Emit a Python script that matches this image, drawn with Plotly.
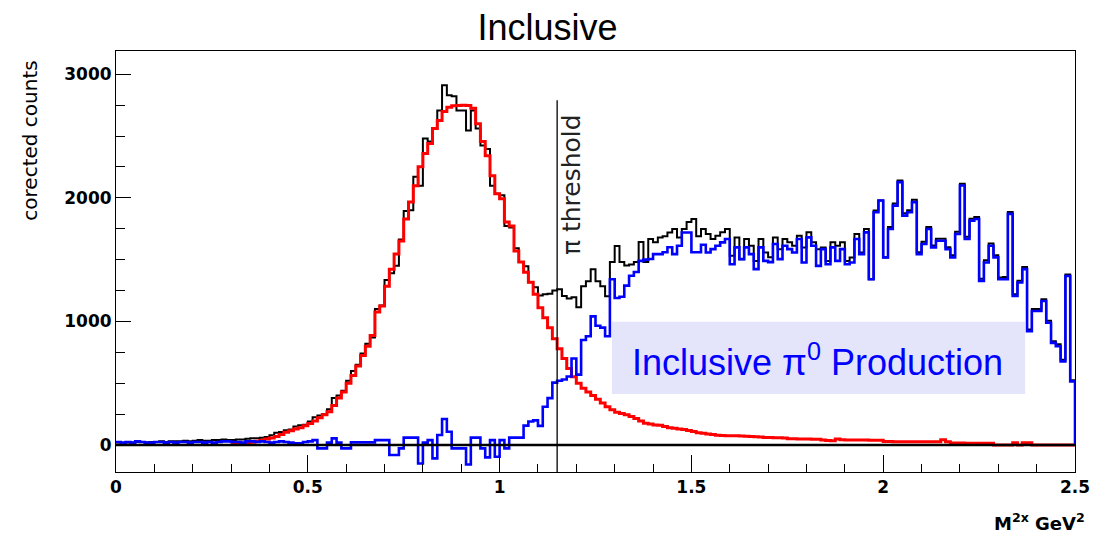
import numpy as np
import plotly.graph_objects as go

# ---------------- data ----------------
X_MIN, X_MAX, N_BINS = 0.0, 2.5, 200
RED_FIRST_BIN = 24

black_counts = [
    20, 15, 20, 20, 25, 25, 20, 25, 25, 30, 25, 30, 30, 30, 35, 30, 35, 40, 35, 35, 40, 40, 45, 40,
    40, 45, 45, 50, 55, 55, 60, 65, 80, 100, 105, 120, 125, 150, 160, 165, 190, 225, 240, 250,
    290, 380, 400, 440, 520, 600, 650, 740, 820, 870, 1100, 1130, 1335, 1390, 1450, 1663, 1894, 1900,
    2171, 2098, 2480, 2455, 2561, 2707, 2910, 2829, 2821, 2707, 2707, 2545, 2707, 2561, 2423, 2395,
    2098, 2033, 2020, 1772, 1760, 1593, 1480, 1447, 1317, 1276,
    1210, 1220, 1225, 1250, 1260, 1205, 1185, 1195, 1114, 1285, 1325, 1423, 1325, 1285, 1203, 1480,
    1610, 1480, 1453, 1460, 1480, 1642, 1480, 1667, 1640, 1680, 1690, 1720, 1748, 1680, 1748, 1805,
    1829, 1690,
    1748, 1707, 1667, 1694, 1721, 1748, 1531, 1680, 1504, 1667, 1612, 1490, 1667, 1558, 1520, 1680,
    1585, 1667, 1640, 1612, 1694, 1599, 1721, 1640, 1585, 1599, 1490, 1640, 1612, 1640, 1490, 1518,
    1707, 1558, 1748, 1341, 1897, 1978, 1518,
    1765, 1955, 2140, 1875, 1900, 1985, 1560, 1645, 1765, 1615, 1670, 1670, 1600, 1535, 1725, 2115,
    1685, 1830, 1845, 1345, 1495, 1630, 1535, 1355, 1360, 1885, 1220, 1330, 1440, 935, 1100, 1100,
    1180, 1005, 840, 815, 690, 1380, 525,
]

red_counts = [
    8, 10, 14, 18, 22, 30, 38, 48, 58, 70, 85, 103, 115, 130, 140, 157, 175, 195, 220, 245,
    270, 320, 380, 430, 500, 562, 640, 724, 800, 887, 1076,
    1124, 1285, 1423, 1545, 1650, 1829, 1967, 2098, 2252, 2358, 2439, 2561, 2626, 2699, 2732, 2745,
    2748, 2750, 2748, 2724, 2600, 2455, 2341, 2179, 2033, 1992, 1805, 1772, 1570, 1480, 1398, 1317,
    1220, 1110, 1030, 950,
    860, 780, 700, 620, 553, 500, 460, 430, 400, 370, 341, 310, 285, 265, 255, 245, 232, 215, 195,
    176, 170, 163, 160, 150, 141, 135, 130, 125, 117, 110, 100, 95, 90, 85, 80, 78, 76,
    76, 75, 74, 72, 70, 68, 66, 62, 62, 60, 60, 58,
    50, 50, 49, 49, 48, 47, 46, 40, 36, 35, 49,
    42, 41, 41, 40, 40, 40, 39, 38, 38,
    28, 28, 27, 27, 27, 27, 27, 26, 26, 26, 26, 26, 43, 27,
    16, 16, 16, 14, 14, 14, 14, 14, 14, 0, 0, 0, 0, 19, 0, 19, 19,
    0, 0, 0, 0, 0, 0, 0, 0, 0,
]

blue_counts = [
    25, 20, 25, 20, 30, 25, 20, 20, 25, 25, 20, 25, 20, 25, 25, 20, 25, 25, 20, 25, 20, 25, 30, 30,
    25, 25, 20, 30, 30, 25, 30, 25, 20, 25, 30, 25, 20, 15, 15, 25, 30,
    40, -27, -27, 20, 54, 20, -27, -27, 22, 22, 22, 22, 22, 40, 40, 40, -81, -81, -27, 60, 60, 60,
    -149, 20, 40, -108, 81, 211, 108, -27, -27, -27, -157, 60, 60, -27, -100, 40, -95, 40, -27,
    60, 60, 60, 157, 190, 200,
    155, 310, 380, 505, 520, 530, 555, 700, 570, 850, 880, 1041, 965, 950, 880, 1341, 1190, 1200,
    1290, 1370, 1400, 1490, 1500, 1505, 1545, 1545, 1560, 1600, 1545, 1612, 1720, 1720, 1560, 1560,
    1620, 1558, 1585, 1612, 1640, 1667, 1463, 1599, 1504, 1599, 1545, 1423, 1599, 1490, 1480, 1626,
    1504, 1612, 1585, 1558, 1667, 1477, 1680, 1612, 1450, 1585, 1463, 1599, 1490, 1585, 1463, 1477,
    1667, 1545, 1721, 1341, 1884, 1978, 1518,
    1748, 1937, 2127, 1856, 1884, 1965, 1545, 1626, 1748, 1599, 1653, 1653, 1585, 1518, 1707, 2100,
    1667, 1816, 1829, 1328, 1477, 1612, 1518, 1341, 1341, 1870, 1206, 1315, 1423, 921, 1084, 1084,
    1165, 989, 827, 799, 677, 1368, 515,
]

threshold_x = 1.15
x_tick_vals = [0, 0.5, 1, 1.5, 2, 2.5]
x_tick_text = ["0", "0.5", "1", "1.5", "2", "2.5"]
y_tick_vals = [0, 1000, 2000, 3000]
y_tick_text = ["0", "1000", "2000", "3000"]

# ---------------- helpers ----------------
edges = np.linspace(X_MIN, X_MAX, N_BINS + 1)


def step_xy(values, first_bin=0, drop_end=False):
    n = len(values)
    xs = list(edges[first_bin:first_bin + n]) + [edges[first_bin + n]]
    ys = list(values) + [values[-1]]
    if drop_end:
        xs.append(edges[first_bin + n])
        ys.append(0)
    return xs, ys


fig = go.Figure()

bx, by = step_xy(black_counts)
fig.add_trace(go.Scatter(x=bx, y=by, mode="lines", line=dict(color="black", width=2, shape="hv"),
                         showlegend=False, hoverinfo="skip"))
rx, ry = step_xy(red_counts, RED_FIRST_BIN)
fig.add_trace(go.Scatter(x=rx, y=ry, mode="lines", line=dict(color="#ff0000", width=3, shape="hv"),
                         showlegend=False, hoverinfo="skip"))
ux, uy = step_xy(blue_counts, 0, drop_end=True)
fig.add_trace(go.Scatter(x=ux, y=uy, mode="lines", line=dict(color="#0000ff", width=2.6, shape="hv"),
                         showlegend=False, hoverinfo="skip"))

Y_RANGE = [-218, 3188]

# zero line, threshold line, label box
fig.add_shape(type="line", xref="x", yref="y", x0=X_MIN, x1=X_MAX, y0=0, y1=0,
              line=dict(color="black", width=2.5), layer="above")
fig.add_shape(type="line", xref="x", yref="y", x0=threshold_x, x1=threshold_x, y0=Y_RANGE[0], y1=2790,
              line=dict(color="black", width=1.3), layer="above")
fig.add_shape(type="rect", xref="x", yref="y", x0=1.293, x1=2.37, y0=414, y1=998,
              fillcolor="rgb(228,228,250)", line=dict(width=0), layer="above")

fig.add_annotation(x=1.189, y=2104, xref="x", yref="y", text="π threshold", textangle=-90,
                   xanchor="center", yanchor="middle",
                   showarrow=False, font=dict(family="DejaVu Sans", size=25, color="#222222"))
fig.add_annotation(x=1.83, y=690, xref="x", yref="y", text="Inclusive π<sup>0</sup> Production",
                   xanchor="center", yanchor="middle",
                   showarrow=False, font=dict(family="Liberation Sans", size=36, color="#0000ff"))
fig.add_annotation(x=-0.0897, y=0.787, xref="paper", yref="paper", text="corected counts",
                   textangle=-90, showarrow=False, xanchor="center", yanchor="middle",
                   font=dict(family="DejaVu Sans", size=20, color="black"))
fig.add_annotation(x=1.0125, y=-0.119, xref="paper", yref="paper", xanchor="right", yanchor="middle",
                   text="M<sup>2x</sup> GeV<sup>2</sup>", showarrow=False,
                   font=dict(family="DejaVu Sans", size=18, color="black", weight="bold"))

tick_font = dict(family="DejaVu Sans", size=17, color="black", weight="bold")

fig.update_layout(
    width=1095, height=539, autosize=False,
    margin=dict(l=116, r=20, t=51, b=67),
    paper_bgcolor="white", plot_bgcolor="white",
    title=dict(text="Inclusive", x=0.5, xref="container", xanchor="center",
               y=1 - 27 / 539, yref="container", yanchor="middle",
               font=dict(family="Liberation Sans", size=36, color="black")),
    xaxis=dict(range=[X_MIN, X_MAX], tickvals=x_tick_vals, ticktext=x_tick_text,
               ticks="inside", ticklen=17, tickwidth=1, tickcolor="black",
               showline=True, linecolor="black", linewidth=1, mirror=True,
               showgrid=False, zeroline=False, tickfont=tick_font, automargin=False,
               minor=dict(dtick=0.1, tick0=0, ticks="inside", ticklen=8, tickcolor="black",
                          tickwidth=1, showgrid=False)),
    yaxis=dict(range=Y_RANGE, tickvals=y_tick_vals, ticktext=y_tick_text,
               ticks="inside", ticklen=15, tickwidth=1, tickcolor="black",
               showline=True, linecolor="black", linewidth=1, mirror=True,
               showgrid=False, zeroline=False, tickfont=tick_font, automargin=False,
               minor=dict(dtick=250, tick0=0, ticks="inside", ticklen=9, tickcolor="black",
                          tickwidth=1, showgrid=False)),
)

fig.write_html("out.html")
